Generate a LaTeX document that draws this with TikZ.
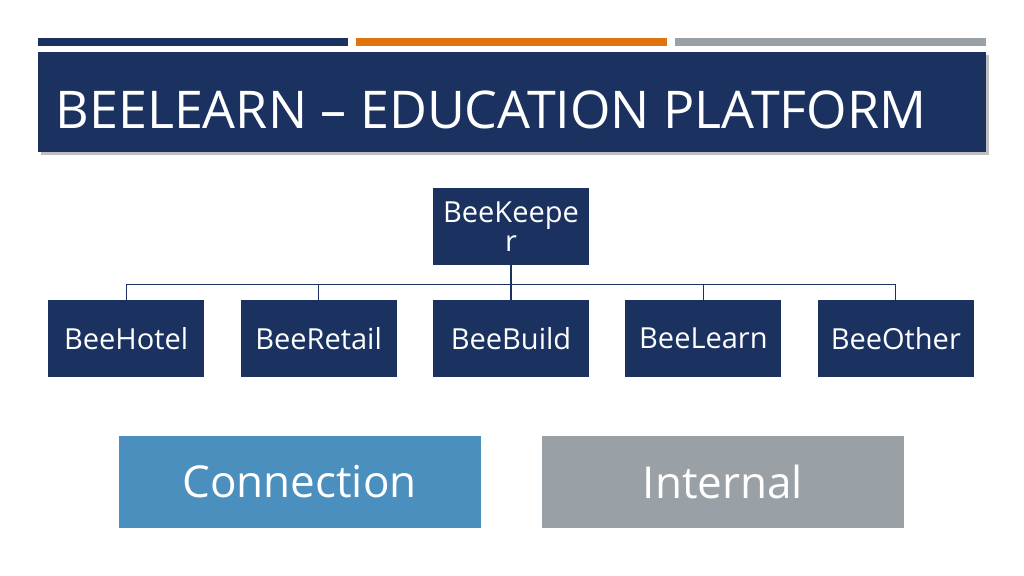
\documentclass[tikz,border=0pt]{standalone}
\usepackage{fontspec}
\setmainfont{Open Sans}
\usetikzlibrary{positioning,shadows}
\definecolor{navy}{HTML}{1B3260}
\definecolor{accent}{HTML}{E0730F}
\definecolor{slate}{HTML}{9AA1A6}
\definecolor{sky}{HTML}{4A8FBD}
\tikzset{
  unit/.style={fill=navy, text=white, minimum width=156pt, minimum height=77pt,
    inner sep=0pt, font=\fontsize{29}{33}\selectfont, align=center},
  group/.style={minimum width=362pt, minimum height=92pt, inner sep=0pt,
    text=white, font=\fontsize{44}{50}\selectfont},
  link/.style={draw=navy, line width=1.3pt}
}
\begin{document}
\begin{tikzpicture}[x=1pt,y=1pt]
\useasboundingbox (0,0) rectangle (1024,-575);
% bars on top
\fill [navy] (38,-38) rectangle (348,-46);
\fill [accent] (356,-38) rectangle (667,-46);
\fill [slate] (675,-38) rectangle (986,-46);
% title
\node (title) [fill=navy, drop shadow, minimum width=948pt, minimum height=100pt,
  inner sep=0pt] at (512,-102) {};
\node [text=white, anchor=west, font=\fontsize{52}{60}\selectfont] at (52,-110)
  {BEELEARN – EDUCATION PLATFORM};
% org chart
\node (keeper) [unit] at (511,-226.5) {BeeKeepe\\[-4pt]r};
\node (build) [unit] at (511,-338.5) {BeeBuild};
\node (retail) [unit, left=36pt of build] {BeeRetail};
\node (hotel) [unit, left=36pt of retail] {BeeHotel};
\node (learn) [unit, right=36pt of build] {BeeLearn};
\node (other) [unit, right=36pt of learn] {BeeOther};
\foreach \n in {hotel,retail,build,learn,other}
  \draw [link] (keeper.south) -- ++(0,-19) -| (\n.north);
% groups
\node (connection) [group, fill=sky] at (299.5,-481.5) {Connection};
\node (internal) [group, fill=slate] at (723,-481.5) {Internal};
\end{tikzpicture}
\end{document}
